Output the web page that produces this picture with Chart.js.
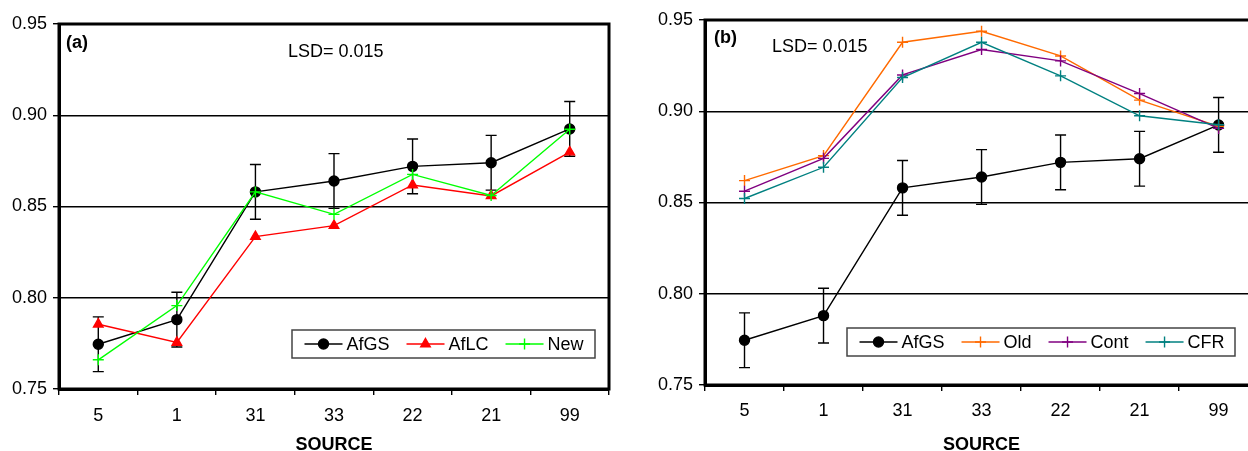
<!DOCTYPE html>
<html>
<head>
<meta charset="utf-8">
<script src="https://cdn.jsdelivr.net/npm/chart.js@4.4.1/dist/chart.umd.min.js"></script>
<style>
    html, body { margin: 0; padding: 0; background: #fff; }
    body { width: 1248px; height: 451px; overflow: hidden; position: relative; }
    .panel { position: absolute; top: 0; height: 451px; width: 620px; }
    #panelA { left: 0; }
    #panelB { left: 645px; }
</style>
</head>
<body>
<div class="panel" id="panelA"><canvas id="chartA" width="620" height="451"></canvas></div>
<div class="panel" id="panelB"><canvas id="chartB" width="620" height="451"></canvas></div>
<script>
// Data
const sources = ['5', '1', '31', '33', '22', '21', '99'];
const afgs = [0.7745, 0.788, 0.858, 0.864, 0.872, 0.874, 0.8925];
const aflc = [0.7855, 0.7755, 0.8335, 0.8395, 0.8618, 0.8558, 0.8798];
const newVals = [0.766, 0.7957, 0.858, 0.8457, 0.8676, 0.856, 0.8923];
const oldVals = [0.862, 0.8757, 0.9378, 0.9438, 0.9303, 0.9061, 0.8917];
const contVals = [0.8562, 0.8742, 0.9199, 0.9338, 0.9276, 0.9097, 0.8906];
const cfrVals = [0.8522, 0.8693, 0.9185, 0.9378, 0.9194, 0.8975, 0.8926];
const lsd = 0.015;
const yMin = 0.75, yMax = 0.95, yStep = 0.05;

Chart.defaults.font.family = '"Liberation Sans", Arial, sans-serif';
Chart.defaults.font.size = 18;
Chart.defaults.color = '#000';

// error bars (+/- LSD) on the AfGS series
const errorBars = {
    id: 'errorBars',
    beforeDatasetsDraw(chart) {
        const ctx = chart.ctx;
        const meta = chart.getDatasetMeta(0);
        const y = chart.scales.y;
        ctx.save();
        ctx.strokeStyle = '#000';
        ctx.lineWidth = 1.4;
        meta.data.forEach((pt, i) => {
            const v = chart.data.datasets[0].data[i];
            const top = y.getPixelForValue(v + lsd);
            const bot = y.getPixelForValue(v - lsd);
            ctx.beginPath();
            ctx.moveTo(pt.x, top); ctx.lineTo(pt.x, bot);
            ctx.moveTo(pt.x - 5.5, top); ctx.lineTo(pt.x + 5.5, top);
            ctx.moveTo(pt.x - 5.5, bot); ctx.lineTo(pt.x + 5.5, bot);
            ctx.stroke();
        });
        ctx.restore();
    }
};

// frame, panel letter, LSD note and the boxed legend inside the plot
const decorations = {
    id: 'decorations',
    afterDraw(chart, args, opts) {
        const ctx = chart.ctx;
        const a = chart.chartArea;
        ctx.save();
        ctx.strokeStyle = '#000';
        ctx.lineWidth = 3;
        ctx.strokeRect(a.left, a.top, a.right - a.left, a.bottom - a.top);

        ctx.fillStyle = '#000';
        ctx.textBaseline = 'middle';
        ctx.textAlign = 'left';
        ctx.font = 'bold 18px "Liberation Sans", Arial, sans-serif';
        ctx.fillText(opts.letter, a.left + opts.letterX, a.top + opts.letterY);
        ctx.font = '18px "Liberation Sans", Arial, sans-serif';
        ctx.fillText('LSD= ' + lsd.toFixed(3), a.left + opts.lsdX, a.top + opts.lsdY);

        // legend
        const lg = opts.legend;
        ctx.fillStyle = '#fff';
        ctx.fillRect(lg.x, lg.y, lg.w, lg.h);
        ctx.strokeStyle = '#444';
        ctx.lineWidth = 1.5;
        ctx.strokeRect(lg.x, lg.y, lg.w, lg.h);
        let x = lg.x + 12.5;
        const cy = lg.y + lg.h / 2;
        chart.data.datasets.forEach(ds => {
            ctx.strokeStyle = ds.borderColor;
            ctx.fillStyle = ds.pointBackgroundColor;
            ctx.lineWidth = 1.4;
            ctx.beginPath();
            ctx.moveTo(x, cy); ctx.lineTo(x + 38, cy);
            ctx.stroke();
            ctx.strokeStyle = ds.pointBorderColor;
            Chart.helpers.drawPoint(ctx, {
                pointStyle: ds.pointStyle, radius: ds.pointRadius,
                rotation: 0, borderWidth: ds.pointBorderWidth
            }, x + 19, cy);
            x += 42;
            ctx.fillStyle = '#000';
            ctx.font = '18px "Liberation Sans", Arial, sans-serif';
            ctx.fillText(ds.label, x, cy + 1);
            x += ctx.measureText(ds.label).width + 17;
        });
        ctx.restore();
    }
};

function series(label, data, color, style, radius, order) {
    return {
        label: label,
        data: data,
        borderColor: color,
        backgroundColor: color,
        pointBackgroundColor: color,
        pointBorderColor: color,
        pointStyle: style,
        pointRadius: radius,
        pointBorderWidth: 1.4,
        borderWidth: 1.4,
        tension: 0,
        fill: false,
        order: order
    };
}

function makeChart(id, datasets, o) {
    return new Chart(document.getElementById(id), {
        type: 'line',
        data: { labels: sources, datasets: datasets },
        options: {
            responsive: false,
            animation: false,
            devicePixelRatio: 1,
            layout: { padding: { left: 0, right: o.padRight, top: o.padTop, bottom: 0 } },
            plugins: {
                legend: { display: false },
                tooltip: { enabled: false },
                decorations: o.deco
            },
            scales: {
                x: {
                    offset: true,
                    grid: { offset: true, drawOnChartArea: false, drawTicks: true, tickLength: 6, color: '#000', lineWidth: 1.4 },
                    border: { display: true, color: '#000', width: 3 },
                    ticks: { color: '#000', font: { size: 18 }, padding: o.xPad, maxRotation: 0, autoSkip: false },
                    title: {
                        display: true, text: 'SOURCE', color: '#000',
                        font: { size: 18, weight: 'bold', lineHeight: 0.7 },
                        padding: { top: 0, bottom: 0 }
                    },
                    afterFit: s => { s.height = o.xHeight; }
                },
                y: {
                    min: yMin, max: yMax,
                    ticks: {
                        stepSize: yStep, color: '#000', font: { size: 18 }, padding: 6,
                        callback: v => v.toFixed(2)
                    },
                    grid: { color: '#000', lineWidth: 1.4, tickLength: 6, drawTicks: true },
                    border: { display: true, color: '#000', width: 3 },
                    afterFit: s => { s.width = o.yWidth; }
                }
            }
        },
        plugins: [errorBars, decorations]
    });
}

makeChart('chartA', [
    series('AfGS', afgs, '#000000', 'circle', 5, 3),
    series('AfLC', aflc, '#ff0000', 'triangle', 5.5, 2),
    series('New', newVals, '#00ff00', 'cross', 5.5, 1)
], {
    padRight: 11, padTop: 24, xHeight: 62, yWidth: 59, xPad: 10,
    deco: {
        letter: '(a)', letterX: 7, letterY: 19, lsdX: 229, lsdY: 28,
        legend: { x: 292, y: 330, w: 303, h: 28 }
    }
});

makeChart('chartB', [
    series('AfGS', afgs, '#000000', 'circle', 5, 4),
    series('Old', oldVals, '#ff6a00', 'cross', 5.5, 3),
    series('Cont', contVals, '#800080', 'cross', 5.5, 2),
    series('CFR', cfrVals, '#008080', 'cross', 5.5, 1)
], {
    padRight: 6, padTop: 20, xHeight: 66, yWidth: 60, xPad: 9,
    deco: {
        letter: '(b)', letterX: 9, letterY: 18, lsdX: 67, lsdY: 27,
        legend: { x: 202, y: 328, w: 388, h: 28 }
    }
});
</script>
</body>
</html>
